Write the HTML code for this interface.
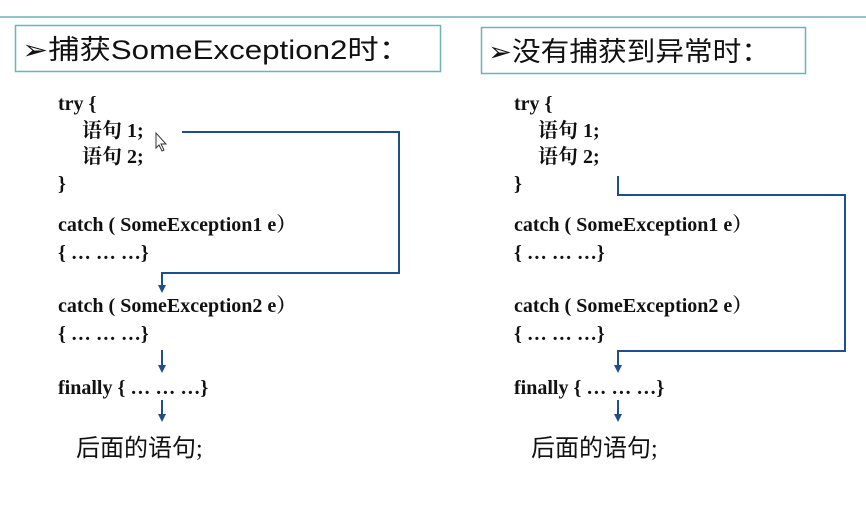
<!DOCTYPE html>
<html><head><meta charset="utf-8"><style>
html,body{margin:0;padding:0;background:#fff;}
svg{display:block;}
.c{font-family:"Liberation Serif","Noto Serif CJK SC",serif;font-weight:bold;font-size:20px;fill:#111;}
.h{font-family:"Liberation Sans","Noto Sans CJK SC",sans-serif;font-size:27px;fill:#111;}
.a{font-family:"Liberation Serif","Noto Sans CJK SC",serif;font-size:24px;fill:#111;}
</style></head><body>
<svg width="866" height="510" xmlns="http://www.w3.org/2000/svg">
<line x1="0" y1="17" x2="866" y2="17" stroke="#6fb3b3" stroke-width="1.5"/>
<rect x="15.5" y="25.5" width="425" height="46" fill="#fff" stroke="#6fb3b3" stroke-width="1.5"/>
<rect x="481.5" y="27.5" width="324" height="46" fill="#fff" stroke="#6fb3b3" stroke-width="1.5"/>
<text x="22" y="59" class="h" textLength="388" lengthAdjust="spacingAndGlyphs">➢捕获SomeException2时：</text>
<text x="488" y="61" class="h" textLength="282" lengthAdjust="spacingAndGlyphs">➢没有捕获到异常时：</text>

<g class="c">
<text x="58" y="110">try {</text>
<text x="82" y="137">语句 1;</text>
<text x="82" y="163">语句 2;</text>
<text x="58" y="190">}</text>
<text x="58" y="231">catch ( SomeException1 e）</text>
<text x="58" y="259">{ … … …}</text>
<text x="58" y="312">catch ( SomeException2 e）</text>
<text x="58" y="340">{ … … …}</text>
<text x="58" y="394">finally { … … …}</text>

<text x="514" y="110">try {</text>
<text x="538" y="137">语句 1;</text>
<text x="538" y="163">语句 2;</text>
<text x="514" y="190">}</text>
<text x="514" y="231">catch ( SomeException1 e）</text>
<text x="514" y="259">{ … … …}</text>
<text x="514" y="312">catch ( SomeException2 e）</text>
<text x="514" y="340">{ … … …}</text>
<text x="514" y="394">finally { … … …}</text>
</g>
<text x="76" y="456" class="a">后面的语句;</text>
<text x="531" y="456" class="a">后面的语句;</text>

<g stroke="#1f4e8c" stroke-width="2" fill="none">
<polyline points="182,132 399,132 399,273 162,273 162,286"/>
<line x1="162" y1="350" x2="162" y2="366"/>
<line x1="162" y1="400" x2="162" y2="415"/>
<polyline points="618,176 618,195 845,195 845,351 618,351 618,366"/>
<line x1="618" y1="400" x2="618" y2="415"/>
</g>
<g fill="#1f4e8c">
<path d="M158,285 L166,285 L162,293 Z"/>
<path d="M158,365 L166,365 L162,373 Z"/>
<path d="M158,414 L166,414 L162,422 Z"/>
<path d="M614,365 L622,365 L618,373 Z"/>
<path d="M614,414 L622,414 L618,422 Z"/>
</g>
<path d="M156,133 L156,148 L159,145 L162,151 L164,150 L161,144 L166,144 Z" fill="#fff" stroke="#333" stroke-width="1"/>
</svg>
</body></html>
